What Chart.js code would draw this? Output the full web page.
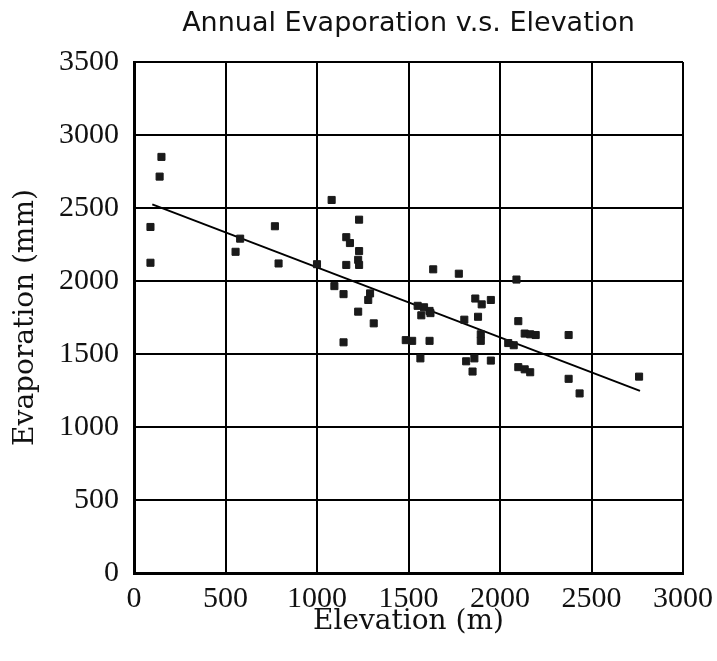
<!DOCTYPE html>
<html>
<head>
<meta charset="utf-8">
<script src="https://cdn.jsdelivr.net/npm/chart.js@4/dist/chart.umd.min.js"></script>
<style>
  html, body { margin: 0; padding: 0; background: #fff; }
  #wrap { width: 717px; height: 661px; }
</style>
</head>
<body>
<div id="wrap"><canvas id="c" width="717" height="661"></canvas></div>
<script>
const chartTitle = "Annual Evaporation v.s. Elevation";
const xTitle = "Elevation (m)";
const yTitle = "Evaporation (mm)";
const xTicks = [0, 500, 1000, 1500, 2000, 2500, 3000];
const yTicks = [0, 500, 1000, 1500, 2000, 2500, 3000, 3500];

const elevation = [
  150, 140, 90, 90, 770, 580, 555, 790, 1000, 1080,
  1230, 1160, 1180, 1230, 1225, 1160, 1230, 1635, 1775, 1095,
  1145, 1290, 1280, 1225, 1310, 1145, 1550, 1585, 1615, 1570,
  1620, 1485, 1520, 1615, 1565, 1865, 1900, 1950, 1805, 1880,
  1895, 1895, 1815, 1860, 1850, 1950, 2090, 2100, 2135, 2165,
  2195, 2375, 2045, 2075, 2100, 2135, 2165, 2375, 2435, 2760
];
const evaporation = [
  2850, 2715, 2370, 2125, 2375, 2290, 2200, 2120, 2115, 2555,
  2420, 2300, 2260, 2205, 2145, 2110, 2110, 2080, 2050, 1965,
  1910, 1915, 1870, 1790, 1710, 1580, 1830, 1820, 1795, 1765,
  1780, 1595, 1590, 1590, 1470, 1880, 1840, 1870, 1735, 1755,
  1635, 1590, 1450, 1470, 1380, 1455, 2010, 1725, 1640, 1635,
  1630, 1630, 1575, 1560, 1410, 1395, 1375, 1330, 1230, 1345
];
const trendElevation = [100, 2765];
const trendEvaporation = [2525, 1247];

const points = elevation.map((x, i) => ({ x: x, y: evaporation[i] }));
const trend = trendElevation.map((x, i) => ({ x: x, y: trendEvaporation[i] }));

const tickFont = { family: "'Liberation Serif'", size: 30, weight: 'normal' };
const axisTitleFont = { family: "'DejaVu Serif'", size: 28, weight: 'normal' };

new Chart(document.getElementById('c'), {
  type: 'scatter',
  data: {
    datasets: [
      {
        data: points,
        pointStyle: 'rect',
        pointRadius: 5,
        pointBackgroundColor: '#1a1a1a',
        pointBorderColor: '#1a1a1a',
        pointBorderWidth: 1,
        showLine: false
      },
      {
        data: trend,
        showLine: true,
        borderColor: '#000',
        borderWidth: 2,
        pointRadius: 0,
        fill: false
      }
    ]
  },
  options: {
    responsive: false,
    animation: false,
    layout: { padding: { left: 0, right: 34, top: 0, bottom: 0 } },
    plugins: {
      legend: { display: false },
      tooltip: { enabled: false },
      title: {
        display: true,
        text: chartTitle,
        fullSize: false,
        color: '#111',
        font: { family: "'DejaVu Sans'", size: 27, weight: 'normal' },
        padding: { top: 8, bottom: 21.6 }
      }
    },
    scales: {
      x: {
        type: 'linear',
        min: xTicks[0],
        max: xTicks[xTicks.length - 1],
        afterBuildTicks: s => { s.ticks = xTicks.map(v => ({ value: v })); },
        afterFit: s => { s.height = 88; s.paddingRight = 0; s.paddingLeft = 0; },
        ticks: { color: '#111', font: tickFont, padding: 8, maxRotation: 0, autoSkip: false, callback: v => String(v) },
        grid: { color: '#000', lineWidth: 2, drawTicks: false },
        border: { color: '#000', width: 3 },
        title: { display: true, text: xTitle, color: '#111', font: axisTitleFont, padding: { top: 0, bottom: 22 } }
      },
      y: {
        type: 'linear',
        min: yTicks[0],
        max: yTicks[yTicks.length - 1],
        afterBuildTicks: s => { s.ticks = yTicks.map(v => ({ value: v })); },
        afterFit: s => { s.width = 134; },
        ticks: { color: '#111', font: tickFont, padding: 15, autoSkip: false, callback: v => String(v) },
        grid: { color: '#000', lineWidth: 2, drawTicks: false },
        border: { color: '#000', width: 3 },
        title: { display: true, text: yTitle, color: '#111', font: axisTitleFont, padding: { top: 9, bottom: 0 } }
      }
    }
  }
});
</script>
</body>
</html>
